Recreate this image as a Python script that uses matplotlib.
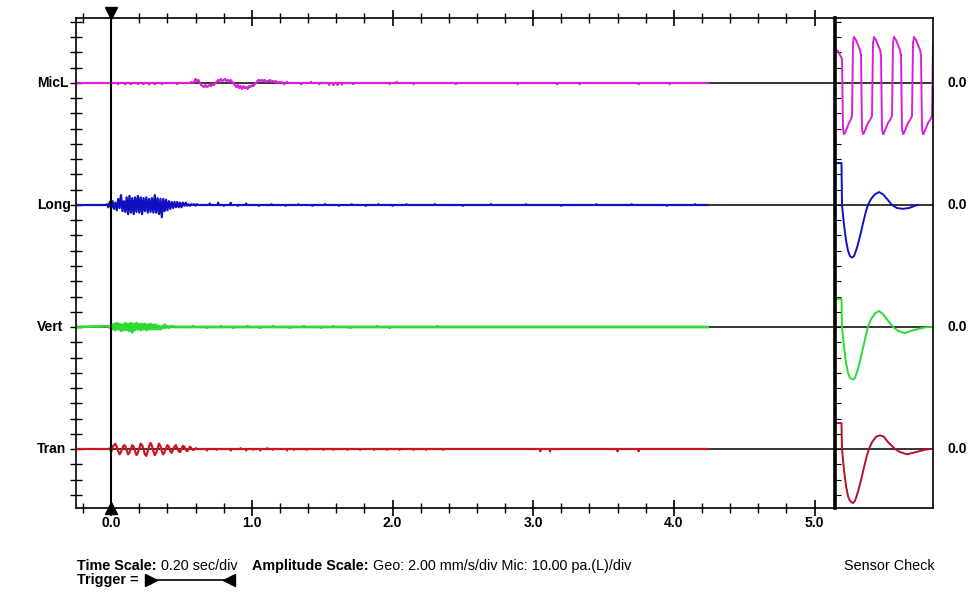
import matplotlib.pyplot as plt
from matplotlib.lines import Line2D
from matplotlib.ticker import MultipleLocator
import matplotlib.transforms as mtransforms
import numpy as np

plt.rcParams['font.family'] = ['Liberation Sans', 'DejaVu Sans']

# ---------------- event record (time in s, Geo in mm/s, Mic in pa.(L)) ----------------
dt = 0.01
t_first, t_last = -0.25, 4.24
channels = ['MicL', 'Long', 'Vert', 'Tran']
colors = ['#d820d8', '#1010c0', '#30d830', '#d01420']
scales = [10.0, 2.0, 2.0, 2.0]          # units per division
divs_per_trace = 8

# MicL
mic_t0 = 0.55
mic_vals = [0, 0, 0.7, 0, 0.7, 2.6, 1.3, 2.0, 0, -1.3,
            -2.0, -2.6, -1.3, -2.6, -2.0, -1.3, -2.0, -0.7, -1.3, 0,
            0.7, 2.0, 1.3, 2.6, 1.3, 2.0, 2.6, 1.3, 2.0, 0.7,
            2.0, 0.7, 0, -1.3, -2.6, -1.3, -3.3, -2.0, -3.9, -2.0,
            -3.3, -2.6, -3.9, -2.0, -2.6, -1.3, -2.0, -0.7, 0, 1.3,
            2.0, 1.3, 2.0, 1.3, 2.0, 0.7, 1.3, 1.3, 2.0, 0.7,
            1.3, 0.7, 1.3, 0, 0.7, 0, 0.7, 0, -0.7, 0,
            0.7, 0]
mic_blip_t = [0.05, 0.10, 0.14, 0.19, 0.23, 0.27, 0.31, 0.36, 0.47, 1.35, 1.42, 1.48,
              1.55, 1.58, 1.61, 1.64, 1.72, 1.98, 2.03, 2.15, 2.45, 2.89, 3.17, 3.33,
              3.75, 3.97]
mic_blip_v = [-0.7, -0.7, -0.7, -0.7, -0.7, -1.0, -0.7, -0.7, -0.7, -0.7, 0.7, -0.7,
              -1.3, -1.3, -1.3, -1.0, -0.7, -0.7, 0.7, -0.7, -0.7, -0.7, -0.7, -0.7,
              -0.7, -0.7]

# Long
long_t0 = -0.04
long_vals = [0, 0.1, -0.3, 0.4, -0.4, 0.5, -0.5, 0.3, -0.7, 0.8,
             -0.4, 1.3, -0.8, 0.5, -0.9, 1.0, -1.2, 1.2, -1.0, 0.9,
             -1.2, 1.0, -0.9, 1.2, -1.0, 1.0, -1.2, 0.9, -0.8, 1.0,
             -1.0, 0.8, -0.9, 0.9, -1.0, 1.3, -1.0, 0.9, -1.2, 0.8,
             -1.6, 0.8, -0.8, 0.7, -0.7, 0.5, -0.5, 0.4, -0.4, 0.4,
             -0.3, 0.4, -0.3, 0.3, -0.3, 0.3, -0.1, 0.3, -0.1, 0.1,
             -0.1, 0.1, 0, 0.1, -0.1, 0.1, 0]
long_blip_t = [0.70, 0.76, 0.80, 0.85, 0.90, 0.96, 1.05, 1.14, 1.24, 1.33, 1.43, 1.52,
               1.62, 1.71, 1.81, 1.90, 2.00, 2.10, 2.30, 2.50, 2.70, 2.95, 3.20, 3.45,
               3.70, 3.95, 4.15]
long_blip_v = [0.2, 0.3, -0.1, 0.3, -0.1, 0.2, -0.1, 0.1, -0.1, 0.1, -0.1, 0.1,
               -0.1, 0.1, -0.1, 0.1, -0.1, 0.1, 0.1, -0.1, 0.1, 0.1, -0.1, 0.1,
               0.1, -0.1, 0.1]

# Vert
vert_t0 = -0.02
vert_vals = [0.1, -0.1, 0.3, -0.3, 0.4, -0.4, 0.5, -0.3, 0.4, -0.5,
             0.3, -0.4, 0.5, -0.4, 0.4, -0.5, 0.5, -0.7, 0.4, -0.4,
             0.5, -0.3, 0.4, -0.4, 0.4, -0.3, 0.4, -0.4, 0.3, -0.3,
             0.4, -0.3, 0.3, -0.3, 0.3, -0.3, 0.1, -0.3, 0.1, -0.1,
             0.3, -0.1, 0.1, -0.1, 0.1, 0, 0.1, 0]
vert_blip_t = [0.58, 0.68, 0.78, 0.87, 0.97, 1.06, 1.15, 1.27, 1.37, 1.49, 1.58, 1.70,
               1.89, 1.98, 2.32]
vert_blip_v = [0.1, -0.1, 0.1, -0.1, 0.1, -0.1, 0.1, -0.1, 0.1, -0.1, 0.1, -0.1,
               0.1, -0.1, 0.1]

# Tran
tran_t0 = -0.02
tran_vals = [0, 0.1, -0.4, 0.3, 0.5, 0.7, 0.3, -0.3, -0.7, -0.4,
             0.1, 0.5, 0.4, -0.1, -0.7, -0.5, 0, 0.5, 0.3, -0.3,
             -0.8, -0.5, 0.1, 0.7, 0.5, 0, -0.7, -0.9, -0.3, 0.4,
             0.8, 0.4, -0.3, -0.8, -0.5, 0.1, 0.7, 0.4, -0.3, -0.7,
             -0.4, 0.1, 0.5, 0.3, -0.3, -0.5, -0.1, 0.3, 0.5, 0.1,
             -0.3, -0.4, 0, 0.4, 0.3, -0.1, -0.3, 0, 0.3, 0.1,
             -0.1, -0.1, 0.1, 0]
tran_blip_t = [0.68, 0.75, 0.85, 0.92, 0.96, 1.01, 1.06, 1.11, 1.15, 1.25, 1.30, 1.39,
               1.51, 1.58, 1.68, 1.77, 1.87, 1.96, 2.05, 2.15, 2.24, 2.36, 3.05, 3.12,
               3.60, 3.75]
tran_blip_v = [-0.2, -0.1, -0.2, 0.1, -0.2, -0.1, -0.2, 0.1, -0.1, -0.2, -0.1, -0.1,
               -0.1, -0.1, -0.1, -0.1, -0.1, -0.1, -0.1, -0.1, -0.1, -0.1, -0.3, -0.3,
               -0.3, -0.3]

# ---------------- sensor check ----------------
mic_sc_t = [1, 3, 5, 7, 8, 9, 10, 12, 14, 16, 17,
            18, 19, 21, 23, 25, 26,
            27, 28, 29, 31, 33, 35, 37,
            38, 39, 41, 43, 45, 46,
            47, 48, 49, 51, 53, 55, 57,
            58, 59, 61, 63, 65, 66,
            67, 68, 69, 71, 73, 75, 77,
            78, 79, 81, 83, 85, 86,
            87, 88, 89, 91, 93, 95, 97,
            98]
mic_sc_v = [21.6, 21.0, 18.4, 15.7, -30.2, -33.5, -32.8, -29.5, -26.2, -23.6, -21.6,
            26.2, 30.2, 28.2, 24.9, 21.6, 18.4,
            -30.2, -33.5, -32.8, -29.5, -26.2, -24.3, -21.6,
            26.2, 30.2, 28.2, 24.9, 21.6, 18.4,
            -30.2, -33.5, -32.8, -29.5, -26.2, -24.3, -21.6,
            26.2, 30.2, 28.2, 24.9, 21.6, 18.4,
            -30.2, -33.5, -32.8, -29.5, -26.2, -24.3, -21.6,
            26.2, 30.2, 28.2, 24.9, 21.6, 18.4,
            -30.2, -33.5, -32.8, -29.5, -26.2, -24.3, -21.6,
            26.2]
long_sc_t = [1, 6.5, 7, 9, 11, 13, 15, 17, 19, 22, 25, 28, 31, 33, 36, 40, 44, 48, 52,
             57, 62, 68, 74, 80, 83]
long_sc_v = [5.5, 5.5, 0, -2.6, -4.6, -6.0, -6.7, -6.9, -6.7, -5.6, -4.1, -2.4, -0.8, 0,
             0.8, 1.4, 1.7, 1.4, 0.8, 0, -0.4, -0.5, -0.4, -0.1, 0]
vert_sc_t = [1, 6.5, 7, 9, 11, 13, 15, 18, 20, 23, 26, 29, 31, 33, 36, 40, 44, 48, 52,
             58, 63, 70, 76, 82, 88, 93, 98]
vert_sc_v = [3.7, 3.7, 0, -2.6, -4.7, -6.0, -6.7, -6.9, -6.7, -5.5, -3.9, -2.2, -1.0, 0,
             1.0, 1.8, 2.1, 1.7, 1.0, 0, -0.5, -0.8, -0.5, -0.3, -0.1, 0, 0]
tran_sc_t = [1, 6.5, 7, 9, 11, 13, 15, 18, 20, 23, 26, 29, 32, 34, 37, 41, 45, 49, 53,
             60, 65, 72, 78, 84, 90, 95, 98]
tran_sc_v = [3.4, 3.4, 0, -2.8, -4.8, -6.2, -6.8, -7.1, -6.8, -5.6, -4.1, -2.4, -0.8, 0,
             0.9, 1.6, 1.8, 1.6, 0.9, 0, -0.4, -0.7, -0.5, -0.3, -0.1, 0, 0]

xticks = [0, 1, 2, 3, 4, 5]
xticklabels = ['0.0', '1.0', '2.0', '3.0', '4.0', '5.0']


def build_trace(t0, vals, blip_t, blip_v):
    t = list(t0 + dt * np.arange(len(vals)))
    v = list(vals)
    for bt, bv in zip(blip_t, blip_v):
        t += [bt - 0.004, bt, bt + 0.004]
        v += [0, bv, 0]
    t += [t_first, t_last]
    v += [0, 0]
    order = np.argsort(t)
    return np.array(t)[order], np.array(v)[order]


traces = [build_trace(mic_t0, mic_vals, mic_blip_t, mic_blip_v),
          build_trace(long_t0, long_vals, long_blip_t, long_blip_v),
          build_trace(vert_t0, vert_vals, vert_blip_t, vert_blip_v),
          build_trace(tran_t0, tran_vals, tran_blip_t, tran_blip_v)]
sensor = [(mic_sc_t, mic_sc_v), (long_sc_t, long_sc_v),
          (vert_sc_t, vert_sc_v), (tran_sc_t, tran_sc_v)]

W, H = 973, 593
fig = plt.figure(figsize=(W / 100, H / 100), dpi=100)
ax = fig.add_axes([76 / W, 1 - 508 / H, (835 - 76) / W, (508 - 18) / H])
sx = fig.add_axes([835 / W, 1 - 508 / H, (933 - 835) / W, (508 - 18) / H])

px_per_div = (449 - 83) / 3 / divs_per_trace
ylo = -(508 - 449) / px_per_div
yhi = 3 * divs_per_trace + (83 - 18) / px_per_div
for a in (ax, sx):
    a.set_ylim(ylo, yhi)
ax.set_xlim(-0.25, (835 - 111) / 140.7)
sx.set_xlim(0, 98)

for i, name in enumerate(channels):
    off = (3 - i) * divs_per_trace
    t, v = traces[i]
    ax.axhline(off, color='black', lw=1.1, zorder=1)
    ax.plot(t, off + v / scales[i], color=colors[i], lw=2.0 if name == 'Vert' else 1.6,
            zorder=2)
    sx.axhline(off, color='black', lw=1.1, zorder=1)
    st, sv = sensor[i]
    sx.plot(st, off + np.array(sv) / scales[i],
            color='#b8102c' if name == 'Tran' else colors[i], lw=1.4, zorder=2)
    tr = mtransforms.blended_transform_factory(ax.transAxes, ax.transData)
    ax.text(-0.0514, off, name, transform=tr, ha='left', va='center',
            fontsize=10, fontweight='bold')
    tr2 = mtransforms.blended_transform_factory(sx.transAxes, sx.transData)
    sx.text(1.153, off, '0.0', transform=tr2, ha='left', va='center',
            fontsize=10, fontweight='bold')

# trigger line and markers
ax.axvline(0, color='black', lw=1.5, zorder=3)
ax.plot([0], [yhi + 4.5 / px_per_div], marker='v', ms=8, color='black', clip_on=False,
        zorder=4)
ax.plot([0], [ylo], marker='^', ms=8, color='black', clip_on=False, zorder=4)

# axes styling
for s in ['left', 'top', 'bottom']:
    ax.spines[s].set_linewidth(1.2)
ax.spines['right'].set_visible(False)
ax.xaxis.set_major_locator(MultipleLocator(1))
ax.xaxis.set_minor_locator(MultipleLocator(0.2))
ax.set_xticks(xticks)
ax.set_xticklabels(xticklabels, fontsize=10, fontweight='bold')
ax.yaxis.set_major_locator(MultipleLocator(1))
ax.set_yticklabels([])
ax.tick_params(axis='x', which='major', direction='inout', length=12, width=1.2,
               top=True, bottom=True, pad=0)
ax.tick_params(axis='x', which='minor', direction='inout', length=7, width=1.0,
               top=True, bottom=True)
ax.tick_params(axis='y', which='major', direction='inout', length=8, width=1.0,
               left=True, labelleft=False)

sx.spines['left'].set_linewidth(2.6)
for s in ['top', 'right', 'bottom']:
    sx.spines[s].set_linewidth(1.2)
sx.set_xticks([])
sx.yaxis.set_major_locator(MultipleLocator(1))
sx.tick_params(axis='y', direction='in', length=4, width=0.8, labelleft=False)

# footer text
fig.canvas.draw()
r = fig.canvas.get_renderer()
y_foot = 1 - 566 / H
x = 77
parts = [('Time Scale:', 'bold', 4), ('0.20 sec/div', 'normal', 15),
         ('Amplitude Scale:', 'bold', 4), ('Geo: 2.00 mm/s/div Mic: 10.00 pa.(L)/div', 'normal', 0)]
for s, w, gap in parts:
    txt = fig.text(x / W, y_foot, s, fontsize=10.4, fontweight=w, va='center', ha='left')
    bb = txt.get_window_extent(r)
    x = bb.x1 + gap
fig.text(77 / W, 1 - 580 / H, 'Trigger =', fontsize=10.4, fontweight='bold', va='center',
         ha='left')
y_trig = 1 - 580 / H
fig.add_artist(Line2D([152 / W, 229 / W], [y_trig, y_trig], color='black', lw=1.2))
fig.add_artist(Line2D([151 / W], [y_trig], marker='>', ms=8, color='black'))
fig.add_artist(Line2D([229 / W], [y_trig], marker='<', ms=8, color='black'))
fig.text(935 / W, y_foot, 'Sensor Check', fontsize=10.4, va='center', ha='right')

fig.savefig('out.png', dpi=100)
